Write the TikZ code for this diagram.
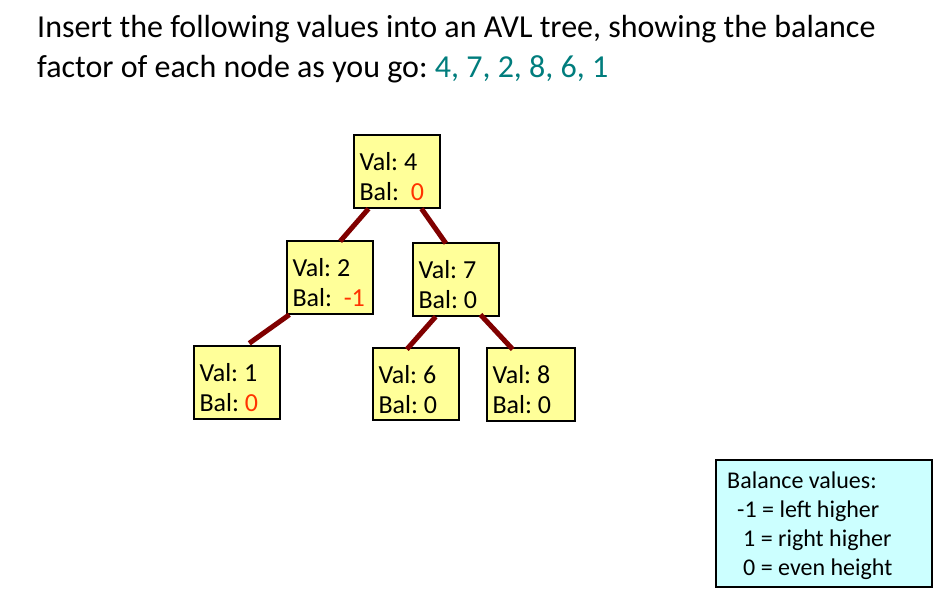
\documentclass[tikz,border=0pt]{standalone}
\usepackage{fontspec}
\setmainfont{Carlito}
\usetikzlibrary{calc}
\definecolor{boxyellow}{RGB}{255,255,153}
\definecolor{legcyan}{RGB}{204,255,255}
\definecolor{edgered}{RGB}{128,0,0}
\definecolor{balred}{RGB}{255,51,0}
\definecolor{teal2}{RGB}{0,125,125}
\frenchspacing
\tikzset{
  treebox/.style={draw=black, line width=1.4pt, fill=boxyellow, minimum width=86pt, minimum height=73pt, inner sep=0pt},
  nodetxt/.style={anchor=base west, inner sep=0pt, font=\fontsize{26}{30}\selectfont},
  treeedge/.style={draw=edgered, line width=5pt},
  legbox/.style={draw=black, line width=1.2pt, fill=legcyan, minimum width=216pt, minimum height=127pt, inner sep=0pt},
  legtxt/.style={anchor=base west, inner sep=0pt, font=\fontsize{24}{29}\selectfont},
  titletxt/.style={anchor=base west, inner sep=0pt, font=\fontsize{32}{40}\selectfont}
}
\begin{document}
\begin{tikzpicture}[x=1pt,y=1pt]
\useasboundingbox[fill=white] (0,0) rectangle (940,595);
% title
\node[titletxt] (t1) at (37,557) {Insert the following values into an AVL tree, showing the balance};
\node[titletxt] (t2) at (37,517) {factor of each node as you go: \textcolor{teal2}{4, 7, 2, 8, 6, 1}};
% boxes
\node[treebox] (n4) at (397,423.5) {};
\node[treebox] (n2) at (330,317.5) {};
\node[treebox] (n7) at (456,315.5) {};
\node[treebox] (n1) at (237,212.5) {};
\node[treebox, minimum height=72pt] (n6) at (416,211) {};
\node[treebox, minimum width=88pt] (n8) at (531,210.5) {};
% texts
\node[nodetxt] (n4a) at ($(n4.north west)+(6,-36)$) {Val: 4};
\node[nodetxt] (n4b) at ($(n4.north west)+(6,-66)$) {Bal:\ \ \textcolor{balred}{0}};
\node[nodetxt] (n2a) at ($(n2.north west)+(6,-36)$) {Val: 2};
\node[nodetxt] (n2b) at ($(n2.north west)+(6,-66)$) {Bal:\ \ \textcolor{balred}{-1}};
\node[nodetxt] (n7a) at ($(n7.north west)+(6,-36)$) {Val: 7};
\node[nodetxt] (n7b) at ($(n7.north west)+(6,-66)$) {Bal: 0};
\node[nodetxt] (n1a) at ($(n1.north west)+(6,-36)$) {Val: 1};
\node[nodetxt] (n1b) at ($(n1.north west)+(6,-66)$) {Bal: \textcolor{balred}{0}};
\node[nodetxt] (n6a) at ($(n6.north west)+(6,-36)$) {Val: 6};
\node[nodetxt] (n6b) at ($(n6.north west)+(6,-66)$) {Bal: 0};
\node[nodetxt] (n8a) at ($(n8.north west)+(6,-36)$) {Val: 8};
\node[nodetxt] (n8b) at ($(n8.north west)+(6,-66)$) {Bal: 0};
% edges
\draw[treeedge] ($(n4.south west)!0.174!(n4.south east)$) -- ($(n2.north west)!0.616!(n2.north east)+(0,-1)$);
\draw[treeedge] ($(n4.south west)!0.78!(n4.south east)$) -- ($(n7.north west)!0.384!(n7.north east)+(0,-1)$);
\draw[treeedge] ($(n2.south west)!0.035!(n2.south east)$) -- ($(n1.north west)!0.64!(n1.north east)+(0,2)$);
\draw[treeedge] ($(n7.south west)!0.267!(n7.south east)$) -- ($(n6.north west)!0.395!(n6.north east)+(0,-2)$);
\draw[treeedge] ($(n7.south west)!0.78!(n7.south east)+(0,2)$) -- ($(n8.north west)!0.295!(n8.north east)+(0,-2)$);
% legend
\node[legbox] (leg) at (824,71.5) {};
\node[legtxt] (l1) at (727,107) {Balance values:};
\node[legtxt] (l2) at (737,78) {-1 = left higher};
\node[legtxt] (l3) at (743,49) {1 = right higher};
\node[legtxt] (l4) at (743,20) {0 = even height};
\end{tikzpicture}
\end{document}
